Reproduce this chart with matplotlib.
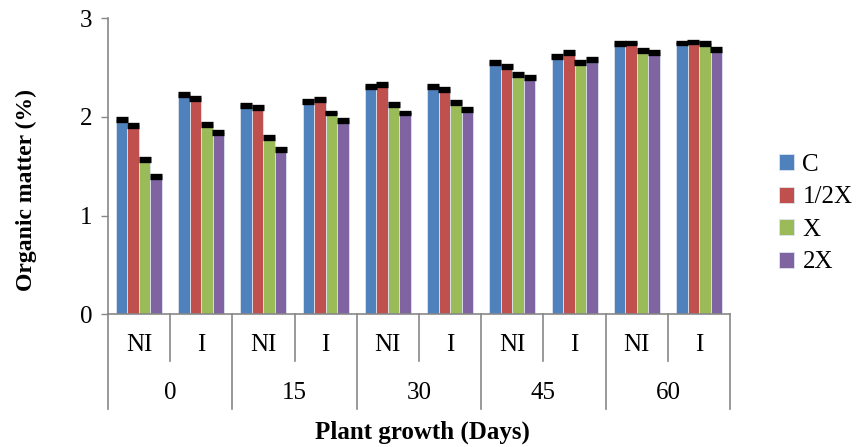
import numpy as np
import matplotlib
matplotlib.use("Agg")
import matplotlib.pyplot as plt

# values
days = ["0", "15", "30", "45", "60"]
treat = ["NI", "I"]
series = ["C", "1/2X", "X", "2X"]
colors = ["#4F81BD", "#C0504D", "#9BBB59", "#8064A2"]

c_vals = [1.97, 2.23, 2.12, 2.16, 2.31, 2.31, 2.55, 2.61, 2.74, 2.75]
half_vals = [1.91, 2.19, 2.10, 2.18, 2.33, 2.28, 2.51, 2.65, 2.75, 2.76]
x_vals = [1.57, 1.92, 1.79, 2.04, 2.13, 2.15, 2.43, 2.55, 2.67, 2.74]
dbl_vals = [1.40, 1.84, 1.67, 1.96, 2.04, 2.08, 2.40, 2.58, 2.65, 2.68]
errs = [0.015] * 10

values = [c_vals, half_vals, x_vals, dbl_vals]

plt.rcParams['font.family'] = ['Liberation Serif', 'DejaVu Serif']

fig = plt.figure(figsize=(8.56, 4.47), dpi=100)
ax = fig.add_axes([0.126, 0.297, 0.727, 0.662])

n = len(c_vals)
x = np.arange(n)
w = 0.185
for i, (name, vals, col) in enumerate(zip(series, values, colors)):
    ax.bar(x + (i - 1.5) * w, vals, w, color=col, edgecolor="#dde4ee",
           linewidth=0.6, label=name,
           yerr=errs, error_kw=dict(ecolor="black", elinewidth=1.2,
                                    capsize=4, capthick=2.4))

axis_col = "#878787"
ax.set_xlim(-0.5, n - 0.5)
ax.set_ylim(0, 3)
ax.set_yticks([0, 1, 2, 3])
ax.set_xticks([])
ax.tick_params(axis="y", direction="out", length=5, width=1, color=axis_col,
               labelsize=18, pad=6)
for s in ["top", "right"]:
    ax.spines[s].set_visible(False)
for s in ["left", "bottom"]:
    ax.spines[s].set_color(axis_col)
    ax.spines[s].set_linewidth(1.2)

# two level category axis
tr = ax.get_xaxis_transform()
for k in range(n + 1):
    xb = k - 0.5
    bottom = -0.32 if k % 2 == 0 else -0.159
    ax.plot([xb, xb], [0, bottom], color=axis_col, lw=1.2,
            transform=tr, clip_on=False)
for k in range(n):
    ax.text(k, -0.105, treat[k % 2], transform=tr, ha="center", va="center",
            fontsize=18)
for j, d in enumerate(days):
    ax.text(2 * j + 0.5, -0.267, d, transform=tr, ha="center", va="center",
            fontsize=18)

ax.set_ylabel("Organic matter (%)", fontsize=17, fontweight="bold")
ax.yaxis.set_label_coords(-0.114, 0.42)
fig.text(0.494, 0.034, "Plant growth (Days)", ha="center", va="center",
         fontsize=18, fontweight="bold")

ax.legend(loc="center left", bbox_to_anchor=(1.078, 0.34), frameon=False,
          fontsize=18, handlelength=0.6, handleheight=0.6, handletextpad=0.35,
          labelspacing=0.42, borderpad=0, borderaxespad=0)

fig.savefig("out.png", dpi=100)
